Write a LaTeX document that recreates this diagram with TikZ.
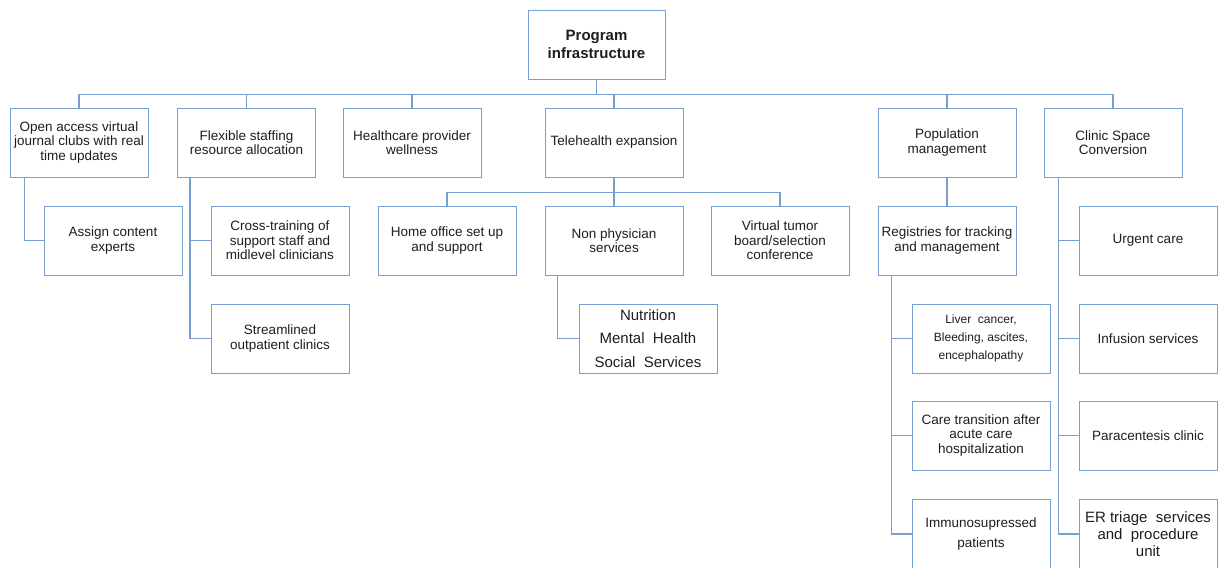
\documentclass[tikz,border=0pt]{standalone}
\usepackage{fontspec}
\setmainfont{Liberation Sans}
\usepackage{tikz}
\usetikzlibrary{positioning}

\definecolor{boxblue}{RGB}{118,160,210}
\definecolor{txtgray}{RGB}{30,30,30}

\begin{document}
\begin{tikzpicture}[x=1pt, y=-1pt,
  box/.style={draw=boxblue, line width=0.9pt, fill=white, text=txtgray, align=center,
    minimum width=138pt, minimum height=69pt, inner sep=1pt,
    font=\fontsize{13.5}{14.5}\selectfont},
  link/.style={draw=boxblue, line width=1.2pt}]
  \useasboundingbox[fill=white] (0,0) rectangle (1221,568);
  \clip (0,0) rectangle (1221,567.6);

  % Root
  \node[box, minimum width=137pt, font=\fontsize{15}{17.5}\selectfont\bfseries] (root) at (596.5,44.5) {Program\\infrastructure};

  % First Level
  \node[box] (journal) at (79,142.5) {Open access virtual\\journal clubs with real\\time updates};
  \node[box] (staffing) at (246.5,142.5) {Flexible staffing\\resource allocation};
  \node[box] (wellness) at (412,142.5) {Healthcare provider\\wellness};
  \node[box] (telehealth) at (614,142.5) {Telehealth expansion};
  \node[box] (population) at (947,142.5) {Population\\management};
  \node[box] (clinic) at (1113,142.5) {Clinic Space\\Conversion};

  % Second Level
  \node[box] (experts) at (113,240.5) {Assign content\\experts};
  \node[box] (crosstrain) at (280,240.5) {Cross-training of\\support staff and\\midlevel clinicians};
  \node[box] (homeoffice) at (447,240.5) {Home office set up\\and support};
  \node[box] (nonphys) at (614,240.5) {Non physician\\services};
  \node[box] (tumor) at (780,240.5) {Virtual tumor\\board/selection\\conference};
  \node[box] (registries) at (947,240.5) {Registries for tracking\\and management};
  \node[box] (urgent) at (1148,240.5) {Urgent care};

  % Third Level
  \node[box] (streamlined) at (280,338.5) {Streamlined\\outpatient clinics};
  \node[box, font=\fontsize{15}{23.5}\selectfont] (nutrition) at (648,338.5) {Nutrition\\Mental\ \ Health\\Social\ \ Services};
  \node[box, font=\fontsize{12}{18}\selectfont] (liver) at (981,338.5) {Liver\ \ cancer,\\Bleeding,\ ascites,\\encephalopathy};
  \node[box] (infusion) at (1148,338.5) {Infusion services};

  % Fourth Level
  \node[box] (transition) at (981,435.5) {Care transition after\\acute care\\hospitalization};
  \node[box] (paracentesis) at (1148,435.5) {Paracentesis clinic};

  % Fifth Level (cut off at the bottom)
  \node[box, font=\fontsize{13.5}{20}\selectfont] (immuno) at (981,534) {Immunosupressed\\patients};
  \node[box, font=\fontsize{15}{17}\selectfont] (ertriage) at (1148,534) {ER\ triage\ \ services\\and\ \ procedure\\unit};

  % Connectors
  \draw[link, line width=1.5pt] (root.south) -- ++(0,15) -| (journal.north);
  \draw[link, line width=1.5pt] (root.south) -- ++(0,15) -| (clinic.north);
  \draw[link] (root.south) -- ++(0,15) -| (staffing.north);
  \draw[link] (root.south) -- ++(0,15) -| (wellness.north);
  \draw[link] (root.south) -- ++(0,15) -| (telehealth.north);
  \draw[link] (root.south) -- ++(0,15) -| (population.north);

  \draw[link] ([xshift=15pt]journal.south west) |- (experts.west);
  \draw[link] ([xshift=13pt]staffing.south west) |- (crosstrain.west);
  \draw[link] ([xshift=13pt]staffing.south west) |- (streamlined.west);

  \draw[link] (telehealth.south) -- ++(0,15) -| (homeoffice.north);
  \draw[link] (telehealth.south) -- ++(0,15) -| (nonphys.north);
  \draw[link] (telehealth.south) -- ++(0,15) -| (tumor.north);
  \draw[link] ([xshift=13pt]nonphys.south west) |- (nutrition.west);

  \draw[link] (population.south) -- (registries.north);
  \draw[link] ([xshift=14pt]registries.south west) |- (liver.west);
  \draw[link] ([xshift=14pt]registries.south west) |- (transition.west);
  \draw[link] ([xshift=14pt]registries.south west) |- (immuno.west);

  \draw[link] ([xshift=15pt]clinic.south west) |- (urgent.west);
  \draw[link] ([xshift=15pt]clinic.south west) |- (infusion.west);
  \draw[link] ([xshift=15pt]clinic.south west) |- (paracentesis.west);
  \draw[link] ([xshift=15pt]clinic.south west) |- (ertriage.west);
\end{tikzpicture}
\end{document}
